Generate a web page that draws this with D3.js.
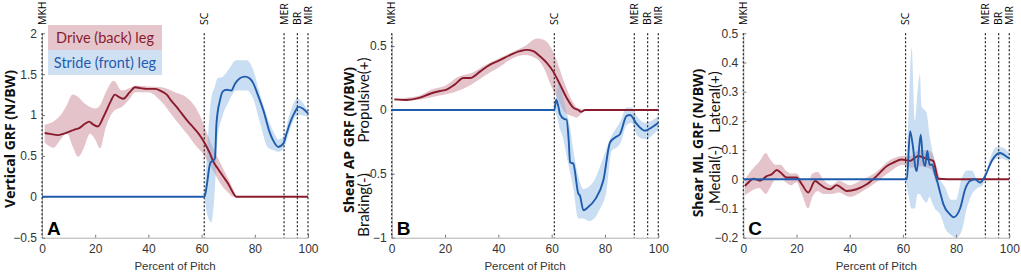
<!DOCTYPE html>
<html>
<head>
<meta charset="utf-8">
<script src="https://cdn.jsdelivr.net/npm/d3@7"></script>
<style>
  body { margin: 0; background: #fff; }
  svg { display: block; }
</style>
</head>
<body>
<div id="chart"></div>
<script>
// ---- data ----
var eventNames = ["MKH", "SC", "MER", "BR", "MIR"];
var eventPct = [0, 61, 91, 96, 100];
var xTicks = [0, 20, 40, 60, 80, 100];

var yTicksA = [-0.5, 0, 0.5, 1, 1.5, 2];
var yTicksB = [-1, -0.5, 0, 0.5];
var yTicksC = [-0.2, -0.1, 0, 0.1, 0.2, 0.3, 0.4, 0.5];

// A: vertical GRF
var aDrivePct  = [1, 3, 6, 8, 10.5, 12, 14, 16, 17.8, 19, 21, 23, 24.3, 26, 27.4, 29, 30.6, 33, 35, 37, 39.3, 42.5, 45, 46.9, 48.5, 50.6, 52.5, 54.4, 56.3, 58.2, 60, 61.3, 63, 64.4, 66, 68.2, 70, 71.3, 73.1, 80, 90, 100];
var aDriveMean = [0.78, 0.77, 0.755, 0.77, 0.80, 0.82, 0.84, 0.89, 0.92, 0.89, 0.86, 0.97, 1.06, 1.18, 1.25, 1.22, 1.20, 1.28, 1.34, 1.33, 1.32, 1.32, 1.29, 1.25, 1.18, 1.10, 1.02, 0.94, 0.87, 0.80, 0.72, 0.65, 0.54, 0.43, 0.35, 0.245, 0.16, 0.08, 0, 0, 0, 0];
var aDriveBandPct = [1, 4.3, 7, 9.3, 11.5, 13.6, 16, 18, 20, 21.8, 24, 27, 30, 33, 35, 40, 45, 50, 55, 58, 60, 62, 65, 68, 70, 72, 73];
var aDriveHi = [0.88, 0.92, 1.00, 1.12, 1.25, 1.22, 1.14, 1.10, 1.08, 1.12, 1.28, 1.42, 1.30, 1.33, 1.36, 1.35, 1.34, 1.28, 1.20, 1.08, 0.95, 0.78, 0.55, 0.35, 0.22, 0.08, 0];
var aDriveLo = [0.66, 0.60, 0.70, 0.78, 0.62, 0.49, 0.62, 0.77, 0.70, 0.59, 0.85, 1.05, 1.10, 1.20, 1.28, 1.28, 1.16, 0.95, 0.75, 0.62, 0.55, 0.45, 0.28, 0.12, 0.05, 0, 0];

var aStridePct  = [0, 61, 61.5, 62, 63.2, 65, 65.6, 66.9, 68, 69.4, 71.2, 72.5, 74.4, 76.3, 78, 79.4, 81, 83.2, 85.7, 86.9, 88.8, 90.7, 92, 93.2, 94.8, 96.4, 98, 100];
var aStrideMean = [0, 0, 0.05, 0.15, 0.41, 0.47, 0.9, 1.18, 1.29, 1.31, 1.30, 1.38, 1.45, 1.47, 1.45, 1.39, 1.26, 1.06, 0.78, 0.69, 0.61, 0.65, 0.78, 0.90, 1.02, 1.10, 1.08, 1.02];
var aStrideBandPct = [61, 62, 63.6, 65, 66, 68, 70, 73, 77, 79.4, 82, 85, 87, 89, 91, 93, 96, 100];
var aStrideHi = [0, 0.5, 1.2, 1.35, 1.45, 1.47, 1.55, 1.67, 1.67, 1.55, 1.25, 0.95, 0.80, 0.70, 0.75, 1.00, 1.20, 1.05];
var aStrideLo = [0, -0.2, -0.31, 0.1, 0.7, 1.0, 1.15, 1.30, 1.30, 1.20, 0.90, 0.60, 0.57, 0.55, 0.60, 0.80, 1.00, 0.98];

// B: shear AP GRF
var bDrivePct  = [1, 5.6, 10.6, 14.4, 18.1, 20.6, 23.7, 26.9, 29.4, 33.1, 36.9, 40.6, 44.4, 48.1, 50.6, 53.1, 55.6, 58.1, 60.6, 63.1, 65.6, 68.1, 70, 71, 72.5, 80, 90, 100];
var bDriveMean = [0.083, 0.078, 0.096, 0.127, 0.148, 0.16, 0.2, 0.25, 0.25, 0.30, 0.355, 0.39, 0.43, 0.46, 0.47, 0.46, 0.42, 0.37, 0.30, 0.20, 0.096, 0.018, 0, -0.015, 0, 0, 0, 0];
var bDriveBandPct = [1, 10, 15, 20, 25, 30, 35, 40, 45, 50, 54.4, 57, 60, 62, 65, 68, 69.4, 71, 72.5];
var bDriveHi = [0.09, 0.11, 0.16, 0.19, 0.26, 0.29, 0.35, 0.40, 0.45, 0.50, 0.56, 0.55, 0.48, 0.38, 0.2, 0.06, 0.02, 0.01, 0];
var bDriveLo = [0.075, 0.08, 0.10, 0.12, 0.15, 0.20, 0.27, 0.33, 0.40, 0.43, 0.40, 0.33, 0.18, 0.10, -0.02, -0.05, -0.06, -0.03, 0];

var bStridePct  = [0, 61, 61.7, 62.5, 63.1, 64.6, 65.6, 66.4, 66.9, 68.1, 70, 70.6, 71.9, 73.7, 76.3, 79.4, 81.9, 83.8, 85.6, 88.1, 89.4, 91.9, 95, 97.5, 100];
var bStrideMean = [0, 0, 0.08, 0.03, -0.03, -0.07, -0.075, -0.24, -0.41, -0.42, -0.655, -0.67, -0.785, -0.76, -0.70, -0.55, -0.255, -0.215, -0.19, -0.047, -0.04, -0.11, -0.163, -0.137, -0.1];
var bStrideBandPct = [61, 62, 63.1, 64, 66, 67, 68, 70, 72, 74, 76, 78, 80.6, 82.5, 84, 86, 88, 90, 92, 95, 100];
var bStrideHi = [0, 0.15, 0.22, 0.12, -0.05, -0.15, -0.3, -0.52, -0.62, -0.6, -0.55, -0.45, -0.3, -0.2, -0.15, -0.08, 0.02, 0.02, -0.05, -0.1, -0.05];
var bStrideLo = [0, -0.05, -0.15, -0.2, -0.4, -0.5, -0.6, -0.85, -0.85, -0.87, -0.85, -0.78, -0.63, -0.32, -0.3, -0.25, -0.12, -0.1, -0.2, -0.23, -0.15];

// C: shear ML GRF
var cDrivePct  = [0.6, 2, 3.8, 6.3, 8.8, 10.6, 12.6, 13.8, 16.3, 20, 22, 24.4, 27, 28.8, 30.5, 32.6, 35.1, 37, 38.9, 42.6, 46.4, 50.1, 53.9, 56.4, 59.5, 62.6, 64, 65.8, 68.9, 71.4, 73.3, 80, 90, 100];
var cDriveMean = [-0.023, -0.01, 0.002, -0.005, 0.011, 0.017, 0.032, 0.025, 0.006, 0.006, -0.017, -0.045, -0.006, -0.017, -0.028, -0.034, -0.02, -0.03, -0.04, -0.034, -0.017, 0.011, 0.045, 0.057, 0.068, 0.063, 0.07, 0.08, 0.07, 0.063, 0.002, 0, 0, 0];
var cDriveBandPct = [0.6, 3, 6, 8.5, 10, 12, 14, 16, 18, 20, 22, 24.4, 26, 28, 30, 33, 36, 40, 45, 50, 55, 60, 63, 66, 69, 71, 72.5, 74];
var cDriveHi = [0.0, 0.03, 0.06, 0.09, 0.07, 0.05, 0.05, 0.03, 0.02, 0.02, 0.0, -0.005, 0.02, 0.025, 0.0, -0.02, -0.005, -0.02, 0.0, 0.025, 0.065, 0.08, 0.08, 0.1, 0.1, 0.09, 0.05, 0];
var cDriveLo = [-0.055, -0.04, -0.03, -0.05, -0.03, 0.0, 0.005, -0.01, -0.02, -0.01, -0.05, -0.1, -0.06, -0.04, -0.05, -0.05, -0.045, -0.06, -0.04, -0.01, 0.025, 0.05, 0.04, 0.045, 0.04, 0.03, -0.01, 0];

var cStridePct  = [0, 61, 61.5, 62.7, 63.8, 64.7, 65.2, 66.7, 67.4, 68.3, 69.2, 70, 71, 72, 73, 74, 75.2, 77.7, 79, 81.5, 83.4, 85.2, 87, 89, 90.9, 93.4, 96.5, 99.6, 100];
var cStrideMean = [0, 0, 0, 0.165, 0.11, 0.04, 0.028, 0.153, 0.08, 0.045, 0.097, 0.05, 0.05, 0.02, -0.01, -0.045, -0.085, -0.12, -0.13, -0.1, -0.034, -0.006, 0, -0.011, 0.011, 0.063, 0.09, 0.074, 0.072];
var cStrideBandPct = [61, 62, 63.3, 64.5, 65.5, 66.4, 67, 68.9, 70, 71, 72, 74, 76, 78, 80, 82, 84, 86, 88, 90, 92, 95, 97, 100];
var cStrideHi = [0, 0.2, 0.45, 0.2, 0.3, 0.36, 0.25, 0.228, 0.15, 0.1, 0.05, 0.0, -0.03, -0.07, -0.07, 0.0, 0.03, 0.03, 0.0, 0.0, 0.05, 0.11, 0.11, 0.09];
var cStrideLo = [0, -0.05, -0.1, -0.1, -0.05, -0.05, -0.06, -0.08, -0.06, -0.08, -0.1, -0.12, -0.17, -0.19, -0.2, -0.18, -0.1, -0.05, -0.03, -0.02, 0.03, 0.07, 0.07, 0.06];

// ---- layout ----
var yTop = 33.3, yBot = 237.7;
var driveColor = "#8a1b2d", strideColor = "#1f5cad";
var driveBand = "#b5606f", strideBand = "#7fb0e0";

var svg = d3.select("#chart").append("svg")
    .attr("width", 1021)
    .attr("height", 272)
    .style("font-family", "'Liberation Sans', Arial, sans-serif");

function drawPanel(p) {
  var x = d3.scaleLinear().domain([0, 100]).range([p.x0, p.x1]);
  var y = d3.scaleLinear().domain(p.yDomain).range([yBot, yTop]);
  var g = svg.append("g");

  var area = d3.area()
      .x(function(d) { return x(d[0]); })
      .y0(function(d) { return y(d[1]); })
      .y1(function(d) { return y(d[2]); })
      .curve(d3.curveMonotoneX);

  var line = d3.line()
      .x(function(d) { return x(d[0]); })
      .y(function(d) { return y(d[1]); })
      .curve(d3.curveMonotoneX);

  g.append("path")
      .datum(d3.zip(p.driveBandPct, p.driveLo, p.driveHi))
      .attr("d", area)
      .style("fill", driveBand)
      .style("opacity", 0.37);

  g.append("path")
      .datum(d3.zip(p.strideBandPct, p.strideLo, p.strideHi))
      .attr("d", area)
      .style("fill", strideBand)
      .style("opacity", 0.42);

  // axes (ticks inward, matlab style)
  var xAxis = g.append("g")
      .attr("transform", "translate(0," + yBot + ")")
      .call(d3.axisBottom(x).tickValues(xTicks).tickSizeInner(-3).tickSizeOuter(0).tickPadding(7));
  var yAxis = g.append("g")
      .attr("transform", "translate(" + p.x0 + ",0)")
      .call(d3.axisLeft(y).tickValues(p.yTicks).tickFormat(d3.format("")).tickSizeInner(-3).tickSizeOuter(0).tickPadding(5));

  [xAxis, yAxis].forEach(function(a) {
    a.select(".domain").style("stroke", "#b0b0b0");
    a.selectAll(".tick line").style("stroke", "#777");
    a.selectAll(".tick text")
        .style("font-size", "12px")
        .style("fill", "#333")
        .style("font-family", "'Liberation Sans', Arial, sans-serif");
  });

  // event lines
  g.selectAll(".evt")
    .data(eventPct)
    .enter().append("line")
      .attr("x1", function(d) { return x(d); })
      .attr("x2", function(d) { return x(d); })
      .attr("y1", yTop)
      .attr("y2", yBot)
      .style("stroke", "#222")
      .style("stroke-width", 1.2)
      .style("stroke-dasharray", "2,2");

  g.selectAll(".evtlabel")
    .data(eventPct)
    .enter().append("text")
      .attr("transform", function(d) { return "translate(" + (x(d) + 3.5) + ",25) rotate(-90)"; })
      .style("font-family", "'Open Sans', 'Liberation Sans', sans-serif")
      .style("font-size", "10.5px")
      .style("fill", "#000")
      .text(function(d, i) { return eventNames[i]; });

  // means
  g.append("path")
      .datum(d3.zip(p.drivePct, p.driveMean))
      .attr("d", line)
      .style("fill", "none")
      .style("stroke", driveColor)
      .style("stroke-width", 1.9);

  g.append("path")
      .datum(d3.zip(p.stridePct, p.strideMean))
      .attr("d", line)
      .style("fill", "none")
      .style("stroke", strideColor)
      .style("stroke-width", 1.9);

  // titles
  g.append("text")
      .attr("x", (p.x0 + p.x1) / 2)
      .attr("y", 270)
      .attr("text-anchor", "middle")
      .style("font-size", "11.5px")
      .style("fill", "#333")
      .text("Percent of Pitch");

  g.append("text")
      .attr("transform", "translate(" + p.titleX + "," + p.titleY + ") rotate(-90)")
      .attr("text-anchor", "middle")
      .style("font-family", "'Open Sans', 'Liberation Sans', sans-serif")
      .style("font-size", "14px")
      .style("font-weight", "bold")
      .style("fill", "#111")
      .text(p.title);

  (p.subs || []).forEach(function(s) {
    g.append("text")
        .attr("transform", "translate(" + p.subX + "," + s[1] + ") rotate(-90)")
        .attr("text-anchor", "middle")
        .style("font-family", "Lato, 'Liberation Sans', sans-serif")
        .style("font-size", "15px")
        .style("fill", "#111")
        .text(s[0]);
  });

  g.append("text")
      .attr("x", p.x0 + 5)
      .attr("y", 235)
      .style("font-size", "19px")
      .style("font-weight", "bold")
      .style("fill", "#000")
      .text(p.letter);

  return g;
}

var gA = drawPanel({
  x0: 42, x1: 308, yDomain: [-0.5, 2], yTicks: yTicksA, letter: "A",
  title: "Vertical GRF (N/BW)", titleX: 15, titleY: 139,
  drivePct: aDrivePct, driveMean: aDriveMean, driveBandPct: aDriveBandPct, driveLo: aDriveLo, driveHi: aDriveHi,
  stridePct: aStridePct, strideMean: aStrideMean, strideBandPct: aStrideBandPct, strideLo: aStrideLo, strideHi: aStrideHi
});

drawPanel({
  x0: 391.7, x1: 658.3, yDomain: [-1, 0.6], yTicks: yTicksB, letter: "B",
  title: "Shear AP GRF (N/BW)", titleX: 354, titleY: 140,
  subX: 369, subs: [["Propulsive(+)", 100], ["Braking(-)", 205]],
  drivePct: bDrivePct, driveMean: bDriveMean, driveBandPct: bDriveBandPct, driveLo: bDriveLo, driveHi: bDriveHi,
  stridePct: bStridePct, strideMean: bStrideMean, strideBandPct: bStrideBandPct, strideLo: bStrideLo, strideHi: bStrideHi
});

drawPanel({
  x0: 743.3, x1: 1009.3, yDomain: [-0.2, 0.5], yTicks: yTicksC, letter: "C",
  title: "Shear ML GRF (N/BW)", titleX: 703, titleY: 143,
  subX: 720, subs: [["Lateral(+)", 102], ["Medial(-)", 175]],
  drivePct: cDrivePct, driveMean: cDriveMean, driveBandPct: cDriveBandPct, driveLo: cDriveLo, driveHi: cDriveHi,
  stridePct: cStridePct, strideMean: cStrideMean, strideBandPct: cStrideBandPct, strideLo: cStrideLo, strideHi: cStrideHi
});

// legend (panel A)
var legendItems = ["Drive (back) leg", "Stride (front) leg"];
var legendFill = ["#e4c6cc", "#cfe0f3"];
var legendText = [driveColor, strideColor];

var leg = gA.selectAll(".legend")
    .data(legendItems)
    .enter().append("g")
      .attr("transform", function(d, i) { return "translate(48," + (25 + i * 25) + ")"; });

leg.append("rect")
    .attr("width", 114)
    .attr("height", 25)
    .style("fill", function(d, i) { return legendFill[i]; });

leg.append("text")
    .attr("x", 57)
    .attr("y", 17.5)
    .attr("text-anchor", "middle")
    .style("font-family", "Lato, 'Liberation Sans', sans-serif")
    .style("font-size", "14.5px")
    .style("fill", function(d, i) { return legendText[i]; })
    .text(function(d) { return d; });
</script>
</body>
</html>
